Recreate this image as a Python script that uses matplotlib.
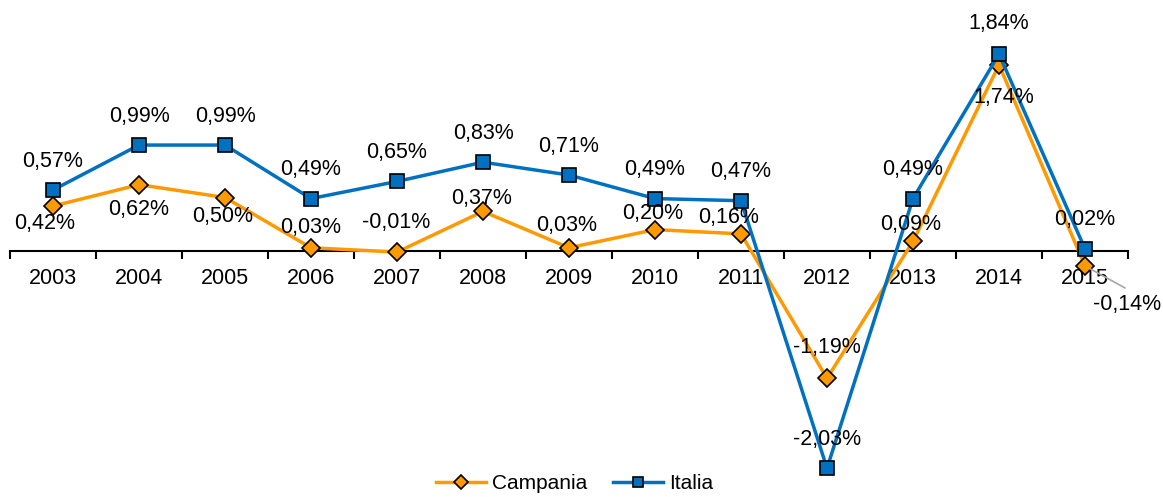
import matplotlib.pyplot as plt

# data
#
years = ['2003', '2004', '2005', '2006', '2007', '2008', '2009',
         '2010', '2011', '2012', '2013', '2014', '2015']
campania = [0.42, 0.62, 0.50, 0.03, -0.01, 0.37, 0.03, 0.20, 0.16, -1.19, 0.09, 1.74, -0.14]
italia = [0.57, 0.99, 0.99, 0.49, 0.65, 0.83, 0.71, 0.49, 0.47, -2.03, 0.49, 1.84, 0.02]

# label offsets in pixels (dx, dy), dy up
camp_off = [(-8, -17), (0, -25), (-2, -19), (0, 20), (-1, 30), (-1, 13), (-2, 22),
            (-2, 16), (-12, 16), (0, 31), (-2, 17), (5, -33), (42, -39)]
ital_off = [(0, 29)] * 13
ital_off[11] = (0, 31)

plt.rcParams['font.family'] = ['Liberation Sans', 'DejaVu Sans']
fs = 15.5

orange = '#FF9900'
blue = '#0070C0'

# plot
#
W, H = 1163, 497
fig = plt.figure(figsize=(W / 100, H / 100), dpi=100)
ymin, ymax = -2.2, 2.2
scale = 107.0
zero_px = 251
top_px = zero_px - ymax * scale
bot_px = zero_px - ymin * scale
ax = fig.add_axes([10 / W, (H - bot_px) / H, 1118 / W, (bot_px - top_px) / H])

x = list(range(len(years)))
ax.plot(x, campania, color=orange, linewidth=2.5, marker='D', markersize=9,
        markerfacecolor=orange, markeredgecolor='black', markeredgewidth=1.2,
        label='Campania', zorder=3)
ax.plot(x, italia, color=blue, linewidth=2.5, marker='s', markersize=10.5,
        markerfacecolor=blue, markeredgecolor='black', markeredgewidth=1.2,
        label='Italia', zorder=4)

ax.set_xlim(-0.5, len(years) - 0.5)
ax.set_ylim(ymin, ymax)

# labels
#
def fmt(v):
    return f'{v:.2f}'.replace('.', ',') + '%'

for i, v in enumerate(campania):
    dx, dy = camp_off[i]
    ax.annotate(fmt(v), (i, v), xytext=(dx * 0.72, dy * 0.72), textcoords='offset points',
                ha='center', va='center', fontsize=fs, zorder=5, annotation_clip=False)
for i, v in enumerate(italia):
    dx, dy = ital_off[i]
    ax.annotate(fmt(v), (i, v), xytext=(dx * 0.72, dy * 0.72), textcoords='offset points',
                ha='center', va='center', fontsize=fs, zorder=5, annotation_clip=False)

# leader line for the last Campania label
ax.annotate('', (12, campania[12]), xytext=(40 * 0.72, -22 * 0.72), textcoords='offset points',
            arrowprops=dict(arrowstyle='-', color='#A6A6A6', lw=1.2,
                            shrinkA=0, shrinkB=4), annotation_clip=False)

# axes
#
for s in ['top', 'right', 'left']:
    ax.spines[s].set_visible(False)
ax.spines['bottom'].set_position(('data', 0))
ax.spines['bottom'].set_linewidth(1.5)
ax.set_yticks([])
ax.set_xticks(x)
ax.set_xticklabels(years, fontsize=fs)
ax.tick_params(axis='x', which='major', length=0, pad=12)
ax.set_xticks([i - 0.5 for i in range(len(years) + 1)], minor=True)
ax.tick_params(axis='x', which='minor', length=6, width=1.5, direction='out')

fig.legend(loc='lower center', bbox_to_anchor=(0.494, -0.03), ncol=2, frameon=False,
           fontsize=15, handlelength=2.4, columnspacing=1.2, handletextpad=0.3,
           markerscale=0.75)

# output
#
plt.savefig('out.png', dpi=100)
